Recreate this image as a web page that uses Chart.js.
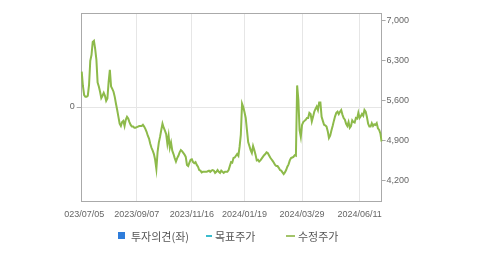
<!DOCTYPE html>
<html>
<head>
<meta charset="utf-8">
<script src="https://cdn.jsdelivr.net/npm/chart.js@4/dist/chart.umd.min.js"></script>
<style>
  body { margin: 0; background: #fff; width: 479px; height: 254px; position: relative; overflow: hidden; }
  #wrap { position: absolute; left: 64px; top: 0; width: 415px; height: 254px; }
  .lg { position: absolute; font: 11px "Noto Sans CJK KR", sans-serif; color: #555; line-height: 14px; top: 229px; white-space: nowrap; }
  .mk { position: absolute; }
</style>
</head>
<body>
<div id="wrap"><canvas id="priceChart" width="415" height="254"></canvas></div>

<div class="mk" style="left:118px;top:232px;width:7px;height:7px;background:#2f7ddb"></div>
<div class="lg" style="left:131px">투자의견(좌)</div>
<div class="mk" style="left:206px;top:235px;width:6px;height:2px;background:#3bbccd"></div>
<div class="lg" style="left:215px">목표주가</div>
<div class="mk" style="left:286px;top:235px;width:9px;height:2px;background:#a3c46a"></div>
<div class="lg" style="left:298px">수정주가</div>

<script>
// --- Data ---
const startDate = '2023-07-05';
const endDate = '2024-07-05';
const holidays = ['2023-08-15', '2023-09-28', '2023-09-29', '2023-10-02', '2023-10-03', '2023-10-09',
    '2023-12-25', '2023-12-29', '2024-01-01', '2024-02-09', '2024-02-12', '2024-03-01',
    '2024-04-10', '2024-05-01', '2024-05-06', '2024-05-15', '2024-06-06'];

const tickLabels = ['2023/07/05', '2023/09/07', '2023/11/16', '2024/01/19', '2024/03/29', '2024/06/11'];
const priceTicks = [4200, 4900, 5600, 6300, 7000];

// 수정주가 (daily close)
const adjPrice = [
    6110, 5860, 5700, 5670, 5670, 5690, 5880, 6300, 6400, 6630,
    6650, 6510, 6320, 5920, 5850, 5760, 5650, 5690, 5740, 5690,
    5600, 5640, 5930, 6140, 5850, 5810, 5760, 5670, 5550, 5440,
    5320, 5200, 5160, 5230, 5250, 5160, 5270, 5320, 5290, 5230,
    5180, 5150, 5150, 5130, 5130, 5140, 5150, 5160, 5160, 5160,
    5180, 5150, 5110, 5060, 4990, 4940, 4850, 4780, 4730, 4670,
    4570, 4410, 4710, 4870, 4970, 5090, 5200, 5130, 5080, 5020,
    4850, 4990, 4780, 4870, 4730, 4670, 4600, 4540, 4600, 4640,
    4700, 4740, 4720, 4690, 4660, 4620, 4480, 4460, 4520, 4570,
    4580, 4530, 4510, 4530, 4480, 4450, 4390, 4380, 4350, 4360,
    4360, 4360, 4360, 4370, 4380, 4360, 4380, 4390, 4380, 4340,
    4360, 4390, 4360, 4340, 4380, 4360, 4340, 4360, 4360, 4360,
    4390, 4460, 4530, 4520, 4600, 4610, 4640, 4670, 4640, 4800,
    5010, 5550, 5490, 5400, 5300, 5090, 4880, 4810, 4740, 4690,
    4810, 4740, 4660, 4560, 4570, 4540, 4560, 4590, 4620, 4650,
    4670, 4700, 4690, 4650, 4610, 4580, 4550, 4520, 4480, 4460,
    4460, 4430, 4390, 4380, 4350, 4320, 4350, 4390, 4450, 4490,
    4560, 4600, 4610, 4620, 4650, 4640, 5870, 5620, 5090, 4970,
    5180, 5230, 5250, 5270, 5300, 5300, 5390, 5370, 5240, 5320,
    5410, 5460, 5500, 5440, 5570, 5570, 5320, 5250, 5180, 5170,
    5150, 5070, 4950, 4990, 5080, 5160, 5250, 5330, 5390, 5410,
    5370, 5410, 5440, 5360, 5300, 5270, 5200, 5160, 5230, 5130,
    5160, 5260, 5230, 5220, 5300, 5290, 5390, 5300, 5330, 5370,
    5340, 5440, 5410, 5320, 5200, 5150, 5150, 5210, 5160, 5190,
    5180, 5210, 5120, 5090, 5030, 4890
];
const targetPrice = [];   // 목표주가: nothing drawn in this period
const opinion = [];       // 투자의견: nothing drawn in this period

// trading days
const dates = [];
for (let d = new Date(startDate + 'T00:00:00Z'); d <= new Date(endDate + 'T00:00:00Z'); d.setUTCDate(d.getUTCDate() + 1)) {
    const iso = d.toISOString().slice(0, 10);
    const wd = d.getUTCDay();
    if (wd === 0 || wd === 6 || holidays.includes(iso)) continue;
    dates.push(iso.replace(/-/g, '/'));
}

// --- Chart ---
const tickFont = { family: '"Liberation Sans", Arial, sans-serif', size: 9 };
const axisColor = '#aaaaaa';

const topBorder = {
    id: 'topBorder',
    afterDraw(chart) {
        const a = chart.chartArea, c = chart.ctx;
        c.save();
        c.strokeStyle = axisColor;
        c.lineWidth = 1;
        c.beginPath();
        c.moveTo(a.left, a.top + 0.5);
        c.lineTo(a.right, a.top + 0.5);
        c.stroke();
        c.restore();
    }
};

const ctx = document.getElementById('priceChart').getContext('2d');
new Chart(ctx, {
    type: 'line',
    data: {
        labels: dates,
        datasets: [
            { type: 'bar', label: '투자의견(좌)', data: opinion, backgroundColor: '#2f7ddb', yAxisID: 'y' },
            { label: '목표주가', data: targetPrice, borderColor: '#3bbccd', borderWidth: 2, pointRadius: 0, yAxisID: 'y1' },
            { label: '수정주가', data: adjPrice, borderColor: '#8dba4a', borderWidth: 2, pointRadius: 0, yAxisID: 'y1', tension: 0 }
        ]
    },
    options: {
        responsive: false,
        animation: false,
        layout: { padding: { top: 13, left: 0, right: 0, bottom: 0 } },
        plugins: { legend: { display: false }, tooltip: { enabled: false } },
        scales: {
            x: {
                offset: false,
                grid: { offset: false, color: '#e6e6e6', drawTicks: false },
                border: { color: axisColor },
                ticks: { autoSkip: false, maxRotation: 0, color: '#666', font: tickFont, padding: 8 },
                afterBuildTicks(s) {
                    s.ticks = tickLabels.map(t => ({ value: dates.indexOf(t) })).filter(t => t.value >= 0);
                },
                afterFit(s) { s.height = 53; s.paddingLeft = 0; s.paddingRight = 0; }
            },
            y: {
                position: 'left',
                min: -1, max: 1,
                afterBuildTicks(s) { s.ticks = [{ value: 0 }]; },
                grid: { color: '#e6e6e6', tickLength: 5, tickColor: axisColor },
                border: { color: axisColor },
                ticks: { color: '#666', font: tickFont, padding: 2 },
                afterFit(s) { s.width = 17.7; s.paddingTop = 0; s.paddingBottom = 0; }
            },
            y1: {
                position: 'right',
                min: 3850, max: 7135,
                afterBuildTicks(s) { s.ticks = priceTicks.map(v => ({ value: v })); },
                grid: { drawOnChartArea: false, tickLength: 4, tickColor: axisColor },
                border: { color: axisColor },
                ticks: { color: '#666', font: tickFont, padding: 1, callback: v => v.toLocaleString('en-US') },
                afterFit(s) { s.width = 97.4; s.paddingTop = 0; s.paddingBottom = 0; }
            }
        }
    },
    plugins: [topBorder]
});
</script>
</body>
</html>
